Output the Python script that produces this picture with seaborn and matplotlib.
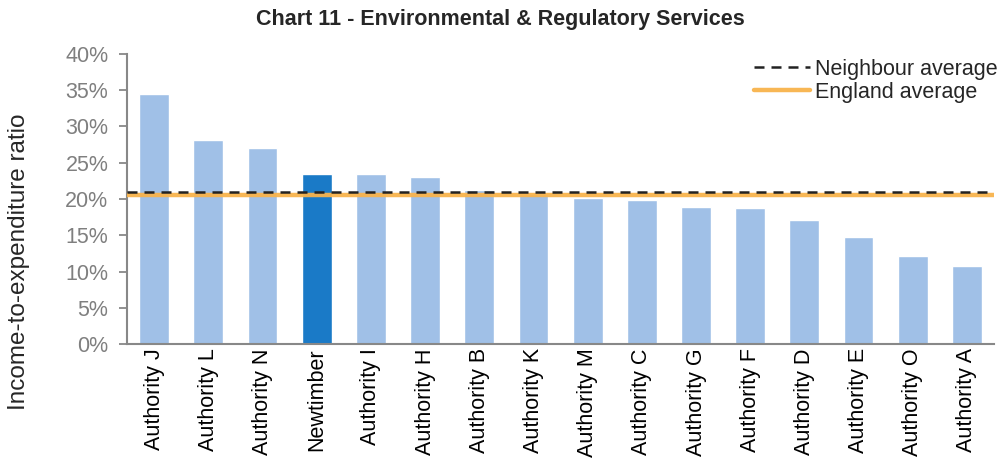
import matplotlib
matplotlib.use("Agg")
import matplotlib.pyplot as plt
import seaborn as sns
import pandas as pd
from matplotlib.ticker import PercentFormatter

# Data
authorities = ["Authority J", "Authority L", "Authority N", "Newtimber", "Authority I",
               "Authority H", "Authority B", "Authority K", "Authority M", "Authority C",
               "Authority G", "Authority F", "Authority D", "Authority E", "Authority O",
               "Authority A"]
ratio = [34.5, 28.2, 27.0, 23.5, 23.4, 23.1, 21.3, 20.7, 20.1, 19.9,
         18.9, 18.7, 17.1, 14.8, 12.1, 10.7]
neighbour_avg = 20.9
england_avg = 20.5
highlight = "Newtimber"

df = pd.DataFrame({"Authority": authorities, "Ratio": ratio})
df["Group"] = ["own" if a == highlight else "other" for a in authorities]

sns.set_style("white")
plt.rcParams["font.family"] = ["Liberation Sans", "DejaVu Sans"]

fig = plt.figure(figsize=(10.01, 4.65), dpi=100)
ax = fig.add_axes([0.127, 0.260, 0.866, 0.624])

sns.barplot(data=df, x="Authority", y="Ratio", hue="Group",
            palette={"other": "#A0C0E7", "own": "#1A7AC7"}, saturation=1,
            width=0.55, dodge=False, legend=False, ax=ax)

ax.axhline(england_avg, color="#F8B34C", lw=3.2, alpha=0.95, label="England average", zorder=3)
ax.axhline(neighbour_avg, color="#222222", lw=1.8, ls=(0, (4, 2.8)), label="Neighbour average", zorder=4)

ax.set_ylim(0, 40)
ax.set_xlim(-0.5, len(authorities) - 0.5)
ax.set_yticks(range(0, 41, 5))
ax.yaxis.set_major_formatter(PercentFormatter(decimals=0))
ax.tick_params(axis="y", colors="#888888", labelsize=15.5, length=5.5, width=1.3,
               left=True, direction="out", pad=8)
ax.tick_params(axis="y", labelcolor="#7f7f7f")
ax.tick_params(axis="x", labelsize=15.5, length=0, labelrotation=90, labelcolor="black", pad=3)
ax.set_xlabel("")
ax.set_ylabel("Income-to-expenditure ratio", fontsize=17.5)
ax.yaxis.set_label_coords(-0.112, 0.285)

for side in ["top", "right"]:
    ax.spines[side].set_visible(False)
for side in ["left", "bottom"]:
    ax.spines[side].set_color("#888888")
    ax.spines[side].set_linewidth(1.5)

handles, labels = ax.get_legend_handles_labels()
order = [labels.index("Neighbour average"), labels.index("England average")]
ax.legend([handles[i] for i in order], [labels[i] for i in order],
          loc="upper right", bbox_to_anchor=(1.027, 1.05), frameon=False,
          fontsize=15.5, handlelength=2.6, handletextpad=0.25, labelspacing=0.1)

fig.suptitle("Chart 11 - Environmental & Regulatory Services",
             fontsize=15.5, fontweight="bold", y=0.98, x=0.5)

fig.savefig("out.png", dpi=100)
